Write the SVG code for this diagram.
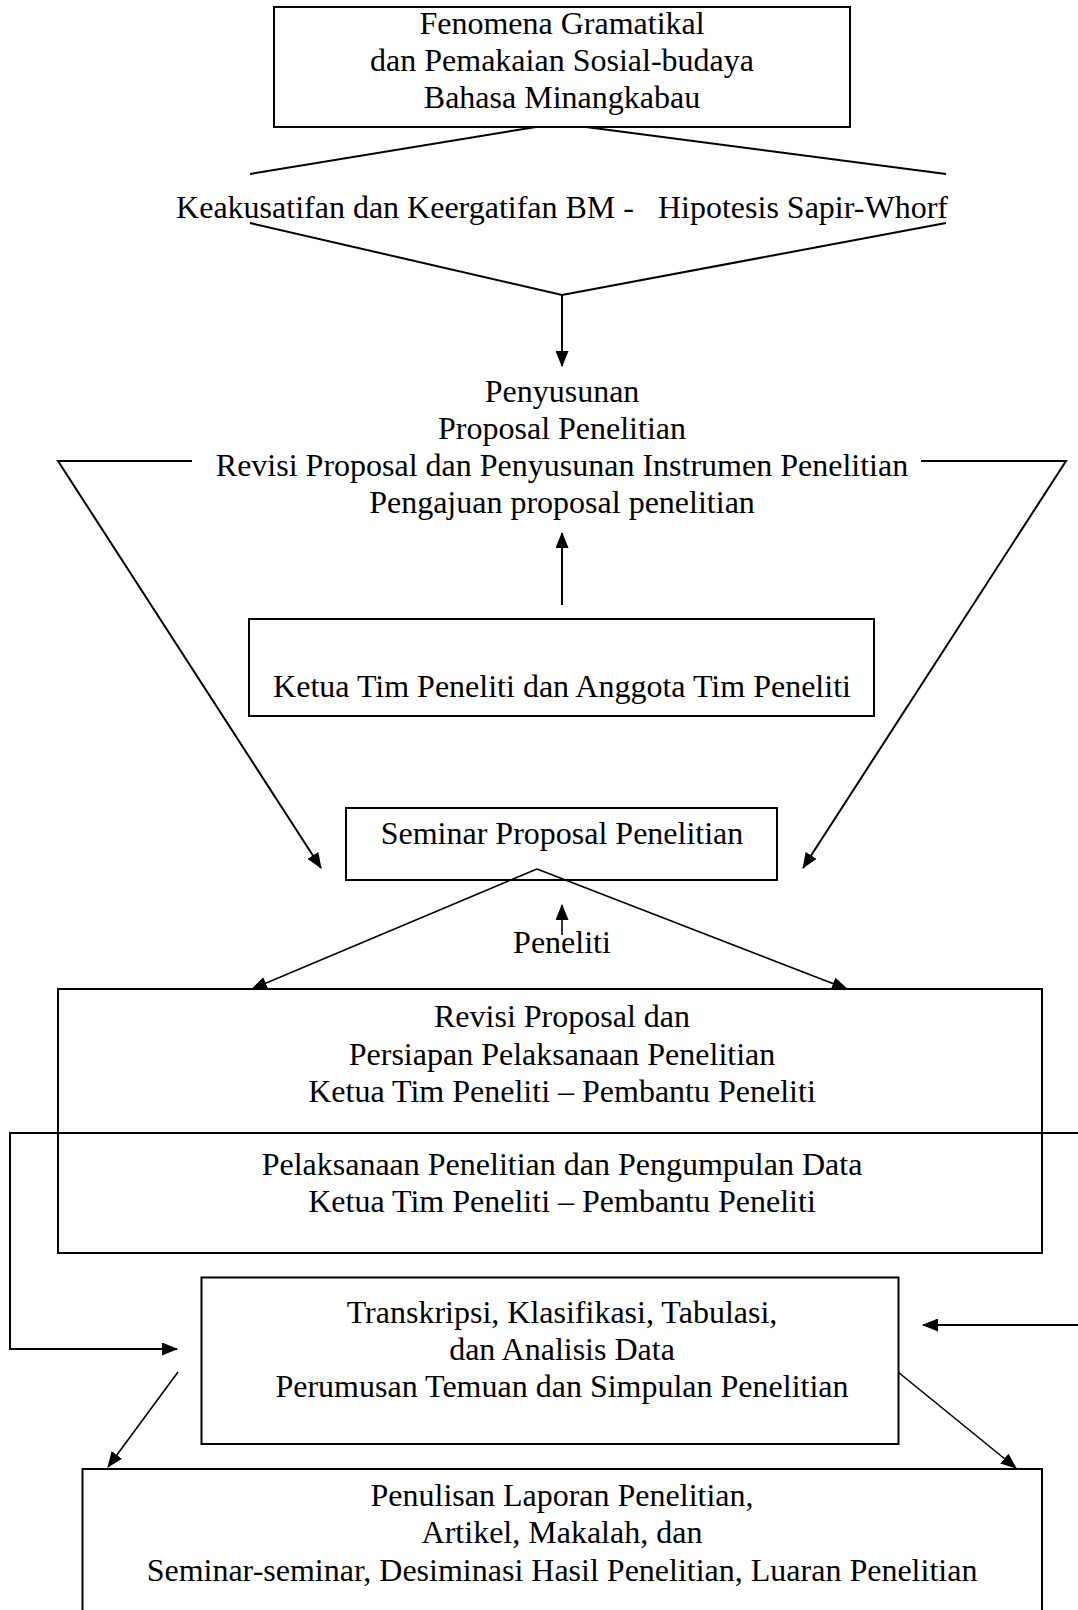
<svg xmlns="http://www.w3.org/2000/svg" width="1078" height="1610" viewBox="0 0 1078 1610">
<style>
text{font-family:"Liberation Serif","Times New Roman",serif;font-size:32px;fill:#000;text-anchor:middle;white-space:pre}
.box{fill:none;stroke:#000;stroke-width:2}
.ln{fill:none;stroke:#000;stroke-width:2}
.th{fill:none;stroke:#000;stroke-width:1.6}
</style>
<defs>
<marker id="ah" viewBox="0 0 16 13" refX="15" refY="6.5" markerWidth="16" markerHeight="13" markerUnits="userSpaceOnUse" orient="auto">
<path d="M0,0 L16,6.5 L0,13 z" fill="#000"/>
</marker>
</defs>
<rect width="1078" height="1610" fill="#fff"/>
<g id="connectors">
<line class="ln" x1="536" y1="127" x2="250" y2="174"/>
<line class="ln" x1="586" y1="127" x2="946" y2="174"/>
<polyline class="ln" points="250,223 562,295 946,223"/>
<line class="ln" x1="562" y1="295" x2="562" y2="366" marker-end="url(#ah)"/>
<polyline class="ln" points="192,461 58,461 321,868" marker-end="url(#ah)"/>
<polyline class="ln" points="921,461 1066,461 803,868" marker-end="url(#ah)"/>
<line class="ln" x1="562" y1="605" x2="562" y2="533" marker-end="url(#ah)"/>
<line class="th" x1="537" y1="869" x2="252" y2="989" marker-end="url(#ah)"/>
<line class="th" x1="537" y1="869" x2="847" y2="989" marker-end="url(#ah)"/>
<line class="th" x1="562" y1="935" x2="562" y2="905" marker-end="url(#ah)"/>
<polyline class="ln" points="1078,1133 10,1133 10,1349 177,1349" marker-end="url(#ah)"/>
<line class="ln" x1="1078" y1="1325" x2="923" y2="1325" marker-end="url(#ah)"/>
<line class="th" x1="178" y1="1372" x2="108" y2="1467" marker-end="url(#ah)"/>
<line class="th" x1="898" y1="1372" x2="1016" y2="1468" marker-end="url(#ah)"/>
</g>
<g id="n-fenomena">
<rect class="box" x="274" y="7" width="576" height="120"/>
<text x="562" y="34">Fenomena Gramatikal</text>
<text x="562" y="71">dan Pemakaian Sosial-budaya</text>
<text x="562" y="108">Bahasa Minangkabau</text>
</g>
<g id="n-hipotesis">
<text x="562" y="218">Keakusatifan dan Keergatifan BM -   Hipotesis Sapir-Whorf</text>
</g>
<g id="n-penyusunan">
<text x="562" y="402">Penyusunan</text>
<text x="562" y="439">Proposal Penelitian</text>
<text x="562" y="476">Revisi Proposal dan Penyusunan Instrumen Penelitian</text>
<text x="562" y="513">Pengajuan proposal penelitian</text>
</g>
<g id="n-ketua">
<rect class="box" x="249" y="619" width="625" height="97"/>
<text x="562" y="697">Ketua Tim Peneliti dan Anggota Tim Peneliti</text>
</g>
<g id="n-seminar">
<rect class="box" x="346" y="808" width="431" height="72"/>
<text x="562" y="844">Seminar Proposal Penelitian</text>
</g>
<g id="n-peneliti">
<text x="562" y="953">Peneliti</text>
</g>
<g id="n-revisi">
<rect class="box" x="58" y="989" width="984" height="264"/>
<text x="562" y="1027">Revisi Proposal dan</text>
<text x="562" y="1065">Persiapan Pelaksanaan Penelitian</text>
<text x="562" y="1102">Ketua Tim Peneliti – Pembantu Peneliti</text>
<text x="562" y="1175">Pelaksanaan Penelitian dan Pengumpulan Data</text>
<text x="562" y="1212">Ketua Tim Peneliti – Pembantu Peneliti</text>
</g>
<g id="n-transkripsi">
<rect class="box" x="201.5" y="1277.5" width="697" height="166.5"/>
<text x="562" y="1323">Transkripsi, Klasifikasi, Tabulasi,</text>
<text x="562" y="1360">dan Analisis Data</text>
<text x="562" y="1397">Perumusan Temuan dan Simpulan Penelitian</text>
</g>
<g id="n-penulisan">
<path class="box" d="M82.5,1612 V1469 H1042 V1612"/>
<text x="562" y="1506">Penulisan Laporan Penelitian,</text>
<text x="562" y="1543">Artikel, Makalah, dan</text>
<text x="562" y="1581">Seminar-seminar, Desiminasi Hasil Penelitian, Luaran Penelitian</text>
</g>
</svg>
